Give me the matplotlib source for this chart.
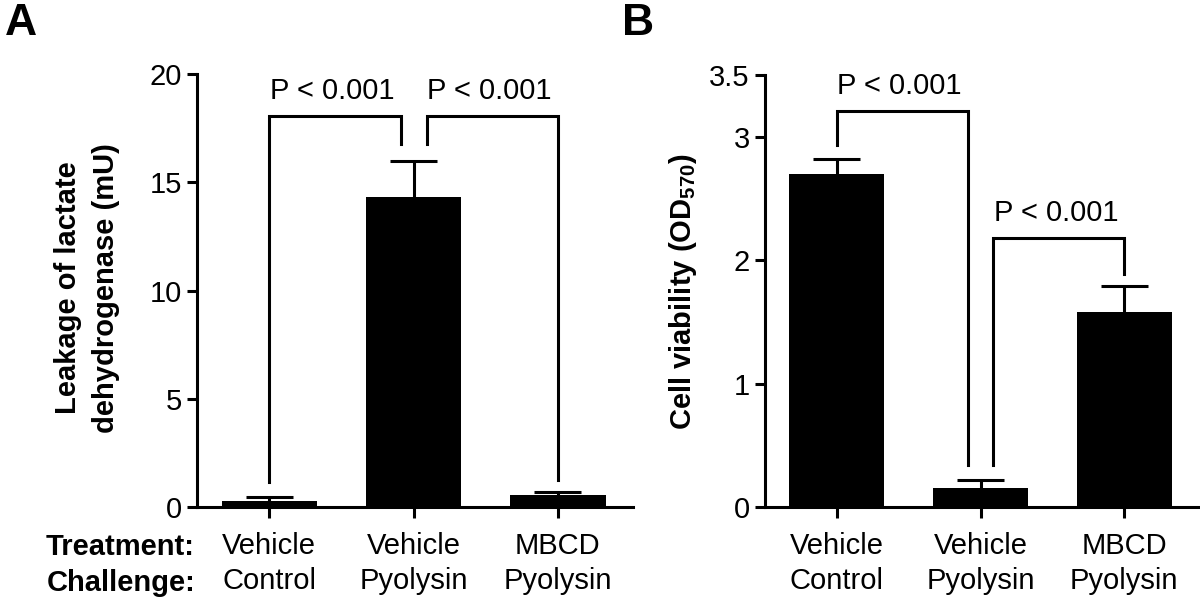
import numpy as np
import matplotlib
matplotlib.use("Agg")
import matplotlib.pyplot as plt

plt.rcParams['font.family'] = ['Liberation Sans', 'DejaVu Sans']
plt.rcParams['mathtext.fontset'] = 'custom'
plt.rcParams['mathtext.rm'] = 'Liberation Sans'
plt.rcParams['mathtext.bf'] = 'Liberation Sans:bold'

# data
groups = ["Vehicle\nControl", "Vehicle\nPyolysin", "MBCD\nPyolysin"]

ldh = [0.30, 14.32, 0.55]
ldh_err = [0.15, 1.66, 0.15]

viab = [2.70, 0.156, 1.58]
viab_err = [0.12, 0.065, 0.21]

# brackets: (left bar, right bar, left foot, top, right foot)
ldh_brackets = [(0, 1, 1.15, 18.06, 16.77), (1, 2, 16.77, 18.06, 1.25)]
viab_brackets = [(0, 1, 2.93, 3.21, 0.34), (1, 2, 0.34, 2.18, 1.89)]
p_text = "P < 0.001"

LW = 2.2
FS = 21

fig = plt.figure(figsize=(12, 6.05), dpi=100)
axA = fig.add_axes([197/1200, 98/605, 436/1200, 433/605])
axB = fig.add_axes([765/1200, 98/605, 434/1200, 432/605])


def draw_panel(ax, vals, errs, brackets, ylim, yticks, yticklabels):
    x = np.arange(len(vals))
    vals = np.array(vals)
    errs = np.array(errs)
    ax.bar(x, vals, width=0.66, color='black', zorder=2)
    # one-sided error bars (upper only)
    ax.vlines(x, vals, vals + errs, color='black', lw=LW, zorder=3)
    ax.hlines(vals + errs, x - 0.163, x + 0.163, color='black', lw=LW, zorder=3)
    for i, j, yl, yt, yr in brackets:
        gap = 0.09
        xl = i if i == 0 else i + gap
        xr = j - gap if i == 0 else j
        ax.plot([xl, xl, xr, xr], [yl, yt, yt, yr], color='black', lw=LW,
                solid_joinstyle='miter', clip_on=False, zorder=4)
        ax.text((xl + xr) / 2 - 0.02, yt + (ylim[1] - ylim[0]) * 0.025, p_text,
                ha='center', va='bottom', fontsize=FS)
    ax.set_xlim(-0.5, 2.52)
    ax.set_ylim(*ylim)
    ax.set_yticks(yticks)
    ax.set_yticklabels(yticklabels)
    ax.set_xticks(x)
    ax.set_xticklabels(groups, linespacing=1.3)
    for s in ['top', 'right']:
        ax.spines[s].set_visible(False)
    for s in ['left', 'bottom']:
        ax.spines[s].set_linewidth(LW)
    ax.tick_params(axis='y', length=7, width=LW, pad=4, labelsize=FS)
    ax.tick_params(axis='x', length=8, width=LW, pad=10, labelsize=FS)


draw_panel(axA, ldh, ldh_err, ldh_brackets, (0, 20), [0, 5, 10, 15, 20],
           ["0", "5", "10", "15", "20"])
draw_panel(axB, viab, viab_err, viab_brackets, (0, 3.5), [0, 1, 2, 3, 3.5],
           ["0", "1", "2", "3", "3.5"])

fig.text(87/1200, 1 - 288/605, "Leakage of lactate\ndehydrogenase (mU)",
         rotation=90, ha='center', va='center', fontsize=FS, fontweight='bold',
         multialignment='center', linespacing=1.45)
fig.text(683/1200, 1 - 292/605, r"Cell viability (OD$_{\mathbf{570}}$)",
         rotation=90, ha='center', va='center', fontsize=FS, fontweight='bold')

fig.text(195/1200, 1 - 547/605, "Treatment:", ha='right', va='center',
         fontsize=FS, fontweight='bold')
fig.text(195/1200, 1 - 583/605, "Challenge:", ha='right', va='center',
         fontsize=FS, fontweight='bold')

fig.text(5/1200, 1 - 3/605, "A", ha='left', va='top', fontsize=32, fontweight='bold')
fig.text(622/1200, 1 - 3/605, "B", ha='left', va='top', fontsize=32, fontweight='bold')

fig.savefig("out.png", dpi=100)
